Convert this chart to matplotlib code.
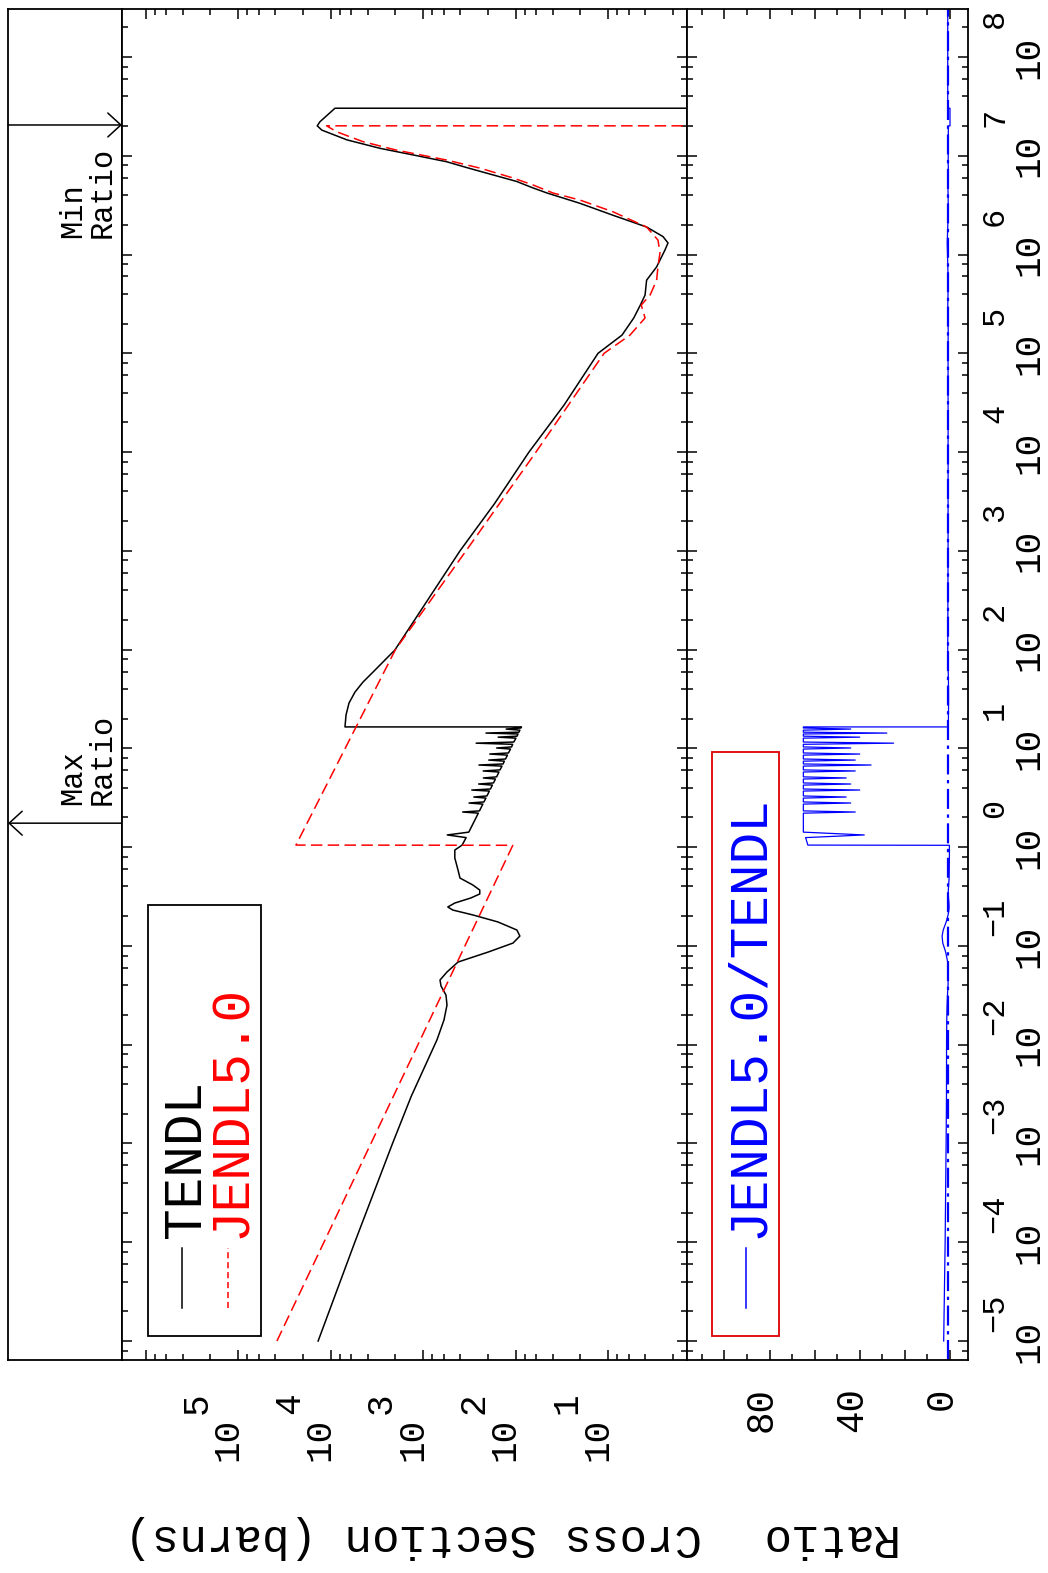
import numpy as np
import matplotlib
matplotlib.use("Agg")
import matplotlib.pyplot as plt
from matplotlib.ticker import FixedLocator, NullFormatter
from matplotlib.patches import Rectangle
from matplotlib.lines import Line2D

# ---------------- data ----------------
# TENDL cross section (barns) vs incident energy (eV)
TENDL_E = [1e-5, 1e-4, 1e-3, 3e-3, 0.0112, 0.0178, 0.0252, 0.0318, 0.0393, 0.0452,
           0.0545, 0.0687, 0.0867, 0.107, 0.126, 0.145, 0.175, 0.206, 0.231, 0.248,
           0.272, 0.306, 0.336, 0.368, 0.414, 0.487, 0.587, 0.777, 0.935, 1.05,
           1.25, 1.33, 1.42, 2.21, 2.27, 2.33, 2.73, 2.80, 2.87, 3.14, 3.22, 3.30,
           3.70, 3.79, 3.88, 4.25, 4.36, 4.47, 4.90, 5.02, 5.15, 5.77, 5.91, 6.06,
           6.62, 6.79, 6.96, 7.43, 7.62, 7.81, 8.55, 8.77, 8.99, 9.85, 10.1, 10.35,
           11.0, 11.3, 11.6, 12.7, 13.0, 13.3, 14.0, 14.3, 14.6, 15.3, 15.7, 16.1, 16.5,
           16.5, 21.8, 28.8, 37.2, 47.0, 59.3, 76.7, 99.0, 1e3, 3e3, 1e4, 3e4, 1e5,
           1.53e5, 2.28e5, 3.08e5, 3.89e5, 5.5e5, 7.5e5, 1.11e6, 1.31e6, 1.52e6, 1.9e6,
           2.5e6, 3.3e6, 4.2e6, 4.8e6, 5.5e6, 6.4e6, 7.6e6, 8.7e6, 1.02e7, 1.19e7, 1.45e7,
           1.82e7, 2.01e7, 2.21e7, 3.03e7, 3.03e7]
TENDL_XS = [1.37e4, 5500, 2150, 1350, 711, 597, 554, 568, 643, 659,
            554, 421, 199, 107, 90.3, 97.3, 156, 291, 480, 543,
            456, 306, 245, 245, 291, 401, 421, 456, 456, 380,
            344, 550, 322, 254, 375, 247, 227, 320, 221, 210, 284, 205,
            193, 299, 188, 179, 252, 174, 166, 224, 161, 152, 225, 148,
            141, 250, 137, 133, 196, 129, 123, 191, 120, 114, 161, 111,
            108, 268, 105, 99.6, 155, 97, 94.5, 210, 92.4, 90.3, 127, 87.9, 86.7,
            7020, 6840, 6350, 5470, 4480, 3490, 2660, 2030, 401, 170, 72, 30, 12.9,
            7.1, 5.3, 4.5, 4.0, 3.85, 3.0, 2.44, 2.26, 2.56, 3.85,
            8.9, 20.2, 46, 68, 98, 176, 340, 558, 1290, 2940, 6700,
            1.25e4, 1.40e4, 1.31e4, 9000, 0]

# JENDL5.0 cross section (barns)
JENDL_E = [1e-5, 1.045, 1.05, 100, 1e3, 1e4, 1e5, 1.53e5, 2.28e5, 3.08e5, 3.89e5,
           5.5e5, 7.6e5, 1.04e6, 1.40e6, 1.9e6, 2.71e6, 3.56e6, 4.2e6, 5.06e6,
           5.96e6, 7.5e6, 9.05e6, 1.14e7, 1.39e7, 1.75e7, 2.01e7, 2.01e7]
JENDL_XS = [3.82e4, 107.6, 2.38e4, 2000, 345, 60.5, 11.1, 5.82, 4.0, 4.4, 3.53,
            3.0, 2.9, 2.76, 2.9, 3.85, 8.9, 20.2, 39.6, 65,
            107, 244, 558, 1940, 4490, 8630, 1.11e4, 0]

# Ratio JENDL5.0/TENDL
RATIO_E = [1e-5, 1e-4, 1e-3, 3e-3, 0.0112, 0.0178, 0.0252, 0.0318, 0.0393, 0.0452,
           0.0545, 0.0687, 0.0867, 0.107, 0.126, 0.145, 0.175, 0.206, 0.231, 0.248,
           0.272, 0.306, 0.336, 0.368, 0.414, 0.487, 0.587, 0.777, 0.935, 1.045,
           1.05, 1.25, 1.33, 1.42, 2.21, 2.27, 2.33, 2.73, 2.80, 2.87, 3.14, 3.22, 3.30,
           3.70, 3.79, 3.88, 4.25, 4.36, 4.47, 4.90, 5.02, 5.15, 5.77, 5.91, 6.06,
           6.62, 6.79, 6.96, 7.43, 7.62, 7.81, 8.55, 8.77, 8.99, 9.85, 10.1, 10.35,
           11.0, 11.3, 11.6, 12.7, 13.0, 13.3, 14.0, 14.3, 14.6, 15.3, 15.7, 16.1, 16.5,
           16.5, 21.8, 28.8, 37.2, 47.0, 59.3, 76.7, 99.0, 1e3, 1e4, 1e5,
           1.53e5, 2.28e5, 3.08e5, 3.89e5, 5.5e5, 7.5e5, 1.11e6, 1.31e6, 1.52e6, 1.9e6,
           2.5e6, 3.3e6, 4.2e6, 5.5e6, 6.4e6, 7.6e6, 8.7e6, 1.02e7, 1.19e7, 1.45e7,
           1.82e7, 2.0e7, 2.01e7, 3.03e7, 3.03e7, 3.1e8]
RATIO_VAL = [2.8, 2.15, 1.72, 1.56, 1.52, 1.43, 1.29, 1.12, 0.88, 0.80,
             0.87, 1.02, 1.92, 3.2, 3.5, 3.0, 1.7, 0.85, 0.48, 0.41,
             0.47, 0.66, 0.78, 0.74, 0.59, 0.39, 0.34, 0.27, 0.25, 0.28,
             63, 64, 38, 65, 65, 42, 65, 65, 44, 65, 65, 46, 65,
             65, 40, 65, 65, 44, 65, 65, 46, 65, 65, 42, 65,
             65, 35, 65, 65, 42, 65, 65, 40, 65, 65, 44, 65,
             65, 25, 65, 65, 40, 65, 65, 28, 65, 65, 44, 65, 65,
             0.77, 0.68, 0.63, 0.64, 0.69, 0.78, 0.89, 1.0, 0.86, 0.84, 0.86,
             0.82, 0.75, 0.98, 0.88, 0.78, 0.97, 1.13, 1.24, 1.13, 1.0,
             0.84, 0.79, 0.86, 0.94, 0.8, 0.74, 0.84, 0.78, 0.78, 0.76,
             0.74, 0.79, 0, 0, 1.0, 1.0]

E_MAX_RATIO = 1.75      # energy of "Max Ratio" arrow (eV)
E_MIN_RATIO = 2.05e7    # energy of "Min Ratio" arrow (eV)

E_TICK_EXP = list(range(-5, 9))
XS_TICK_EXP = [1, 2, 3, 4, 5, 6]
XS_LABEL_EXP = [1, 2, 3, 4, 5]
RATIO_MAJOR = [0, 20, 40, 60, 80, 100]
RATIO_MINOR = [10, 30, 50, 70, 90, 110]
RATIO_LABELS = [0, 40, 80]

SERIES_LABELS = ["TENDL", "JENDL5.0"]
RATIO_LABEL = "JENDL5.0/TENDL"

# ---------------- layout ----------------
MONO = "Liberation Mono"
plt.rcParams["font.family"] = [MONO, "DejaVu Sans"]

W, H, DPI = 1048, 1573, 100
fig = plt.figure(figsize=(W / DPI, H / DPI), dpi=DPI)


def fx(px):
    return px / W


def fy(py):
    return 1 - py / H


X_ANN0, X_XS0, X_R0, X_R1 = 8, 122, 686.7, 968
Y_TOP, Y_BOT = 9, 1360


def rect(x0, x1):
    return [fx(x0), fy(Y_BOT), fx(x1) - fx(x0), (Y_BOT - Y_TOP) / H]


ax_ann = fig.add_axes(rect(X_ANN0, X_XS0))
ax_xs = fig.add_axes(rect(X_XS0, X_R0))
ax_r = fig.add_axes(rect(X_R0, X_R1))

E_LIM = (10 ** -5.192, 10 ** 8.486)
XS_LIM = (10 ** 6.257, 10 ** 0.152)
R_LIM = (116.7, -7.98)

for ax in (ax_ann, ax_xs, ax_r):
    ax.set_yscale("log")
    ax.set_ylim(E_LIM)
    for s in ax.spines.values():
        s.set_linewidth(1.3)

ax_xs.set_xscale("log", nonpositive="clip")
ax_xs.set_xlim(XS_LIM)
ax_r.set_xlim(R_LIM)
ax_ann.set_xlim(0, 1)
ax_ann.set_xticks([])
ax_ann.yaxis.set_major_locator(FixedLocator([]))
ax_ann.yaxis.set_minor_locator(FixedLocator([]))

# ---------------- curves ----------------
ax_xs.plot(TENDL_XS, TENDL_E, color="black", lw=1.1)
ax_xs.plot(JENDL_XS, JENDL_E, color="red", lw=1.1, ls=(0, (7.5, 3.5)))
ax_r.plot(RATIO_VAL, RATIO_E, color="blue", lw=0.9)
ax_r.axvline(1.0, color="blue", lw=1.6, ls=(0, (9, 2.5, 1.5, 2.5)))

# ---------------- ticks ----------------
e_major = [10.0 ** k for k in E_TICK_EXP]
e_minor = [m * 10.0 ** k for k in range(-6, 9) for m in (2, 4, 6, 8)]
for ax in (ax_xs, ax_r):
    ax.yaxis.set_major_locator(FixedLocator(e_major))
    ax.yaxis.set_minor_locator(FixedLocator(e_minor))
    ax.yaxis.set_major_formatter(NullFormatter())
    ax.yaxis.set_minor_formatter(NullFormatter())
    ax.xaxis.set_major_formatter(NullFormatter())
    ax.xaxis.set_minor_formatter(NullFormatter())
    ax.tick_params(which="both", direction="in", top=True, bottom=True,
                   left=True, right=True, labelbottom=False, labelleft=False,
                   labeltop=False, labelright=False, width=1.1)
    ax.tick_params(which="major", length=7.5)
    ax.tick_params(which="minor", length=4.3)

ax_xs.xaxis.set_major_locator(FixedLocator([10.0 ** k for k in XS_TICK_EXP]))
ax_xs.xaxis.set_minor_locator(FixedLocator(
    [m * 10.0 ** k for k in range(0, 7) for m in (2, 4, 6, 8)]))
ax_r.xaxis.set_major_locator(FixedLocator(RATIO_MAJOR))
ax_r.xaxis.set_minor_locator(FixedLocator(RATIO_MINOR))

# ---------------- tick labels (drawn rotated) ----------------
LBL = 26
tr_xs = ax_xs.get_xaxis_transform()
for k in XS_LABEL_EXP:
    ax_xs.annotate("10", xy=(10.0 ** k, 0), xycoords=tr_xs, xytext=(7, -58),
                   textcoords="offset pixels", rotation=90, ha="right", va="top",
                   fontsize=LBL, annotation_clip=False)
    ax_xs.annotate(str(k), xy=(10.0 ** k, 0), xycoords=tr_xs, xytext=(-24, -32),
                   textcoords="offset pixels", rotation=90, ha="right", va="top",
                   fontsize=LBL, annotation_clip=False)

tr_e = ax_r.get_yaxis_transform()
for k in E_TICK_EXP:
    ax_r.annotate("10", xy=(1, 10.0 ** k), xycoords=tr_e, xytext=(43, 0),
                  textcoords="offset pixels", rotation=90, ha="left", va="center",
                  fontsize=LBL, annotation_clip=False)
    exp = str(k).replace("-", "\u2212")
    ax_r.annotate(exp, xy=(1, 10.0 ** k), xycoords=tr_e, xytext=(12, 48),
                  textcoords="offset pixels", rotation=90, ha="left", va="top",
                  fontsize=23, annotation_clip=False)

tr_r = ax_r.get_xaxis_transform()
for v in RATIO_LABELS:
    ax_r.annotate(str(v), xy=(v, 0), xycoords=tr_r, xytext=(10, -27),
                  textcoords="offset pixels", rotation=90, ha="right", va="top",
                  fontsize=27, annotation_clip=False)

# axis titles (upside down)
fig.text(fx(413), fy(1537), "Cross Section (barns)", rotation=180,
         ha="center", va="center", fontsize=33)
fig.text(fx(826), fy(1537), "Ratio", rotation=180,
         ha="center", va="center", fontsize=33)

# ---------------- Max / Min ratio arrows ----------------
ac = ("axes fraction", "data")
aprops = dict(arrowstyle="->,head_length=0.47,head_width=0.43", lw=1.1,
              color="black", shrinkA=0, shrinkB=0, mutation_scale=20)
ax_ann.annotate("", xy=(0, E_MAX_RATIO), xycoords=ac,
                xytext=(1, E_MAX_RATIO), textcoords=ac, arrowprops=aprops)
ax_ann.annotate("", xy=(1, E_MIN_RATIO), xycoords=ac,
                xytext=(0, E_MIN_RATIO), textcoords=ac, arrowprops=aprops)
ax_ann.annotate("Max\nRatio", xy=(0.70, E_MAX_RATIO), xycoords=ac,
                xytext=(0, 18), textcoords="offset pixels", rotation=90,
                ha="center", va="bottom", fontsize=22, linespacing=1.0,
                multialignment="left")
ax_ann.annotate("Min\nRatio", xy=(0.70, E_MIN_RATIO), xycoords=ac,
                xytext=(0, -22), textcoords="offset pixels", rotation=90,
                ha="center", va="top", fontsize=22, linespacing=1.0,
                multialignment="left")

# ---------------- legends ----------------
LEG = 38
fig.add_artist(Rectangle((fx(148), fy(1336)), fx(261) - fx(148), fy(905) - fy(1336),
                         transform=fig.transFigure, fill=False, ec="black", lw=1.3))
fig.add_artist(Line2D([fx(182), fx(182)], [fy(1308), fy(1248)],
                      transform=fig.transFigure, color="black", lw=1.1))
fig.add_artist(Line2D([fx(228), fx(228)], [fy(1308), fy(1248)],
                      transform=fig.transFigure, color="red", lw=1.1,
                      ls=(0, (4, 2.5))))
fig.text(fx(186), fy(1238), SERIES_LABELS[0], rotation=90, ha="center",
         va="bottom", fontsize=LEG, color="black")
fig.text(fx(232), fy(1238), SERIES_LABELS[1], rotation=90, ha="center",
         va="bottom", fontsize=LEG, color="red")

fig.add_artist(Rectangle((fx(712), fy(1336)), fx(779) - fx(712), fy(752) - fy(1336),
                         transform=fig.transFigure, fill=False, ec="#dd0000", lw=1.3))
fig.add_artist(Line2D([fx(746), fx(746)], [fy(1308), fy(1248)],
                      transform=fig.transFigure, color="blue", lw=1.1))
fig.text(fx(749), fy(1238), RATIO_LABEL, rotation=90, ha="center",
         va="bottom", fontsize=LEG, color="blue")

fig.savefig("out.png", dpi=DPI)
